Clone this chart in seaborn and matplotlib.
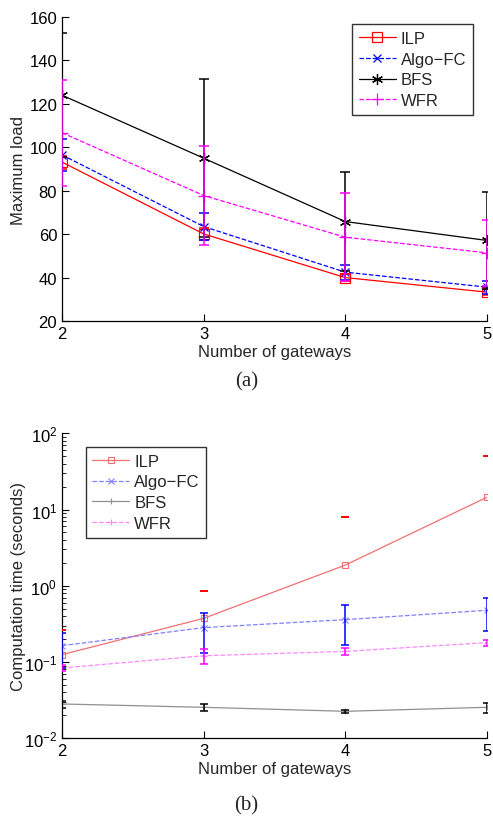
import numpy as np
import matplotlib
matplotlib.use('Agg')
import matplotlib.pyplot as plt
import seaborn as sns

# --- data ---
gateways = [2, 3, 4, 5]
series = ['ILP', 'Algo\u2212FC', 'BFS', 'WFR']

# (a) maximum load
load_ilp = [93.2, 60.1, 40.0, 33.3]
load_algo = [96.5, 63.5, 42.5, 35.6]
load_bfs = [124.0, 95.0, 65.8, 57.1]
load_wfr = [106.7, 77.8, 58.6, 51.4]
load_ilp_err = [3.0, 2.7, 1.5, 1.5]
load_algo_err = [7.5, 6.2, 3.4, 3.0]
load_bfs_err = [28.5, 36.4, 22.8, 22.5]
load_wfr_err = [24.4, 22.8, 20.3, 15.2]

# (b) computation time (seconds)
time_ilp = [0.125, 0.374, 1.87, 14.5]
time_algo = [0.164, 0.283, 0.36, 0.477]
time_bfs = [0.0282, 0.0255, 0.0226, 0.0255]
time_wfr = [0.0836, 0.121, 0.138, 0.18]
time_ilp_err = [0.135, 0.49, 6.0, 35.3]
time_algo_err = [0.08, 0.152, 0.194, 0.225]
time_bfs_err = [0.003, 0.003, 0.001, 0.0038]
time_wfr_err = [0.008, 0.027, 0.0135, 0.016]

sns.set_style('ticks')
plt.rcParams['font.family'] = ['Liberation Sans', 'DejaVu Sans']
plt.rcParams['font.size'] = 12
plt.rcParams['xtick.direction'] = 'in'
plt.rcParams['ytick.direction'] = 'in'

fig = plt.figure(figsize=(4.93, 8.2), dpi=100)
ax1 = fig.add_axes([0.1258, 0.6073, 0.862, 0.3707])
ax2 = fig.add_axes([0.1258, 0.0984, 0.862, 0.372])

# --- (a) ---
top_styles = [
    (load_ilp, load_ilp_err, 'red', '-', 's', 7),
    (load_algo, load_algo_err, 'blue', '--', 'x', 6),
    (load_bfs, load_bfs_err, 'black', '-', (6, 2, 0), 8),
    (load_wfr, load_wfr_err, 'magenta', '--', '+', 8),
]
for name, (vals, errs, col, ls, mk, ms) in zip(series, top_styles):
    sns.lineplot(x=gateways, y=vals, ax=ax1, color=col, linestyle=ls,
                 marker=mk, markersize=ms, markerfacecolor='none',
                 markeredgecolor=col, markeredgewidth=0.9, linewidth=0.9,
                 label=name)
for name, (vals, errs, col, ls, mk, ms) in zip(series, top_styles):
    ax1.errorbar(gateways, vals, yerr=errs, fmt='none', ecolor=col,
                 elinewidth=1.1, capsize=3.3, capthick=1.1, zorder=3)

ax1.set_xlim(2, 5)
ax1.set_ylim(20, 160)
ax1.set_xticks(gateways)
ax1.set_yticks(range(20, 161, 20))
ax1.set_xlabel('Number of gateways', labelpad=2)
ax1.set_ylabel('Maximum load')
leg1 = ax1.legend(loc='upper right', bbox_to_anchor=(0.967, 0.977),
                  frameon=True, fancybox=False, edgecolor='black',
                  handlelength=2.2, handletextpad=0.3, borderpad=0.4,
                  labelspacing=0.35, borderaxespad=0)
leg1.get_frame().set_linewidth(1.0)
sns.despine(ax=ax1)

# --- (b) ---
bot_styles = [
    (time_ilp, time_ilp_err, 'red', '#f07070', '-', 's'),
    (time_algo, time_algo_err, 'blue', '#8080ff', '--', 'x'),
    (time_bfs, time_bfs_err, 'black', '#909090', '-', '+'),
    (time_wfr, time_wfr_err, 'magenta', '#ff88ff', '--', '+'),
]
for name, (vals, errs, ecol, lcol, ls, mk) in zip(series, bot_styles):
    sns.lineplot(x=gateways, y=vals, ax=ax2, color=lcol, linestyle=ls,
                 marker=mk, markersize=4, markerfacecolor='none',
                 markeredgecolor=lcol, markeredgewidth=0.8, linewidth=0.9,
                 label=name)

ax2.set_yscale('log')
for name, (vals, errs, ecol, lcol, ls, mk) in zip(series, bot_styles):
    v = np.array(vals)
    e = np.array(errs)
    if name == 'ILP':
        # lower half falls below zero: only the upper cap is visible
        ax2.plot(gateways, v + e, linestyle='none', marker='_',
                 markersize=6, markeredgewidth=1.4, color=ecol, zorder=3)
    else:
        ax2.errorbar(gateways, v, yerr=e, fmt='none', ecolor=ecol,
                     elinewidth=1.1, capsize=3, capthick=1.1, zorder=3)

ax2.set_xlim(2, 5)
ax2.set_ylim(1e-2, 1e2)
ax2.set_xticks(gateways)
ax2.set_xlabel('Number of gateways', labelpad=2)
ax2.set_ylabel('Computation time (seconds)')
leg2 = ax2.legend(loc='upper left', bbox_to_anchor=(0.056, 0.955),
                  frameon=True, fancybox=False, edgecolor='black',
                  handlelength=2.2, handletextpad=0.3, borderpad=0.4,
                  labelspacing=0.35, borderaxespad=0)
leg2.get_frame().set_linewidth(1.0)
sns.despine(ax=ax2)

for ax in (ax1, ax2):
    ax.yaxis.set_label_coords(-0.085, 0.5)
    ax.tick_params(which='both', color='black', labelcolor='black')
    ax.tick_params(which='major', length=5, width=0.8)
    ax.tick_params(which='minor', length=3, width=0.6)
    for s in ax.spines.values():
        s.set_color('black')
        s.set_linewidth(0.9)

fig.text(0.5, 1 - 382 / 820, '(a)', ha='center', va='center',
         family='Liberation Serif', fontsize=15)
fig.text(0.5, 1 - 806 / 820, '(b)', ha='center', va='center',
         family='Liberation Serif', fontsize=15)

fig.savefig('out.png', dpi=100)
